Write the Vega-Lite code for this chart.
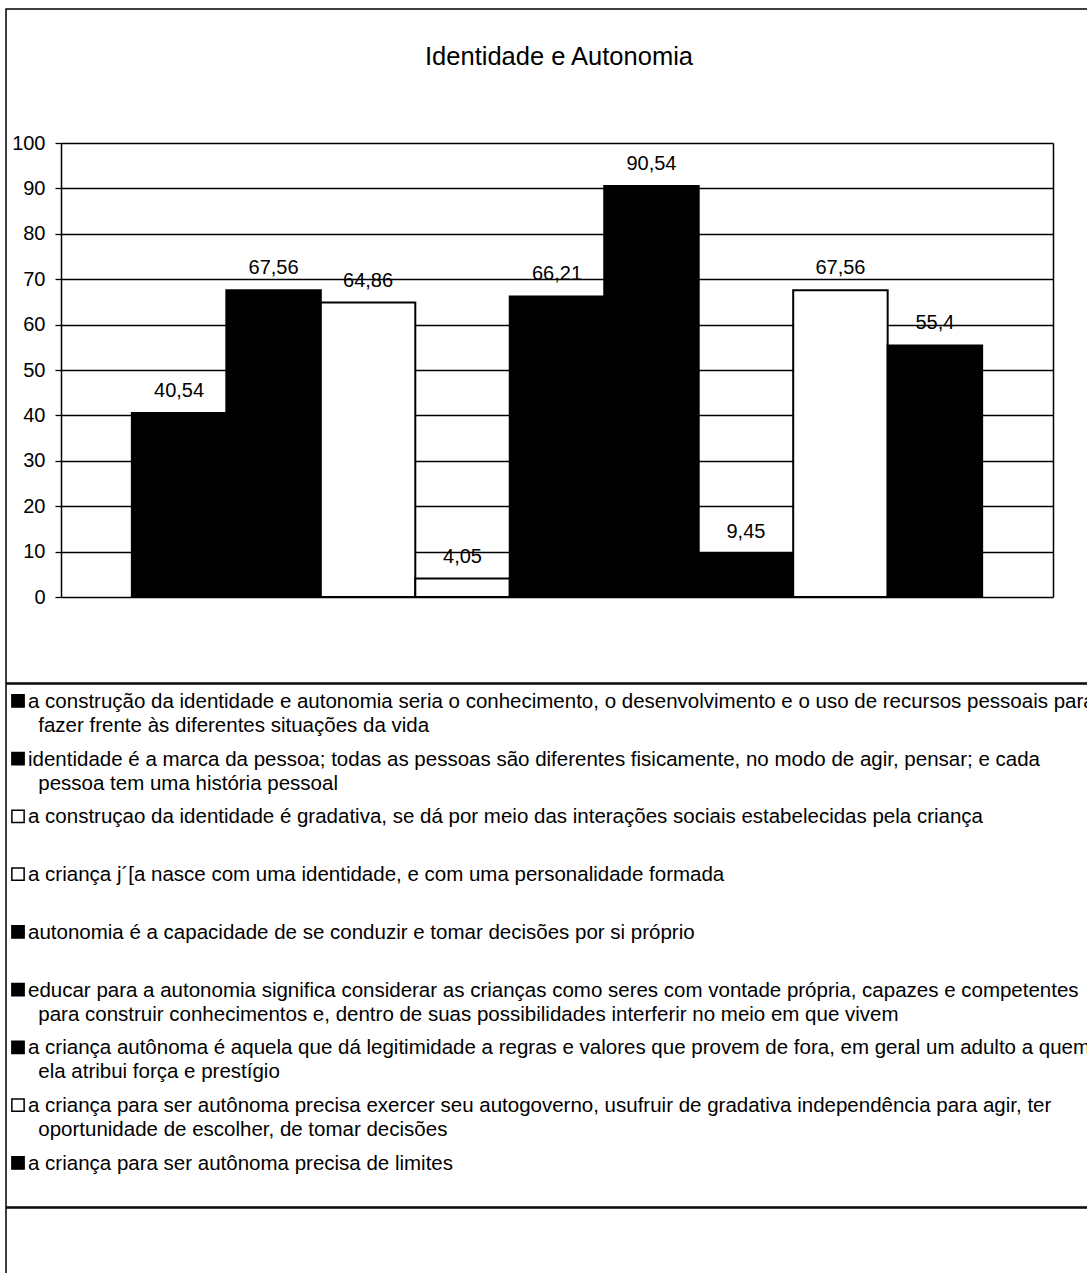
{
  "$schema": "https://vega.github.io/schema/vega-lite/v6.json",
  "background": "white",
  "padding": {"left": 5, "top": 8, "right": 0, "bottom": 0},
  "spacing": -1.5,
  "config": {
    "locale": {"number": {"decimal": ",", "thousands": ".", "grouping": [3], "currency": ["R$", ""]}},
    "font": "Liberation Sans",
    "view": {"stroke": "black", "strokeWidth": 1.5}
  },
  "datasets": {
    "serie": [
      {"ordem": 1, "valor": 40.54, "rotulo": "a construção da identidade e autonomia seria o conhecimento, o desenvolvimento e o uso de recursos pessoais para\n\u200b\u2002fazer frente às diferentes situações da vida"},
      {"ordem": 2, "valor": 67.56, "rotulo": "identidade é a marca da pessoa; todas as pessoas são diferentes fisicamente, no modo de agir, pensar; e cada\n\u200b\u2002pessoa tem uma história pessoal"},
      {"ordem": 3, "valor": 64.86, "rotulo": "a construçao da identidade é gradativa, se dá por meio das interações sociais estabelecidas pela criança"},
      {"ordem": 4, "valor": 4.05, "rotulo": "a criança j´[a nasce com uma identidade, e com uma personalidade formada"},
      {"ordem": 5, "valor": 66.21, "rotulo": "autonomia é a capacidade de se conduzir e tomar decisões por si próprio"},
      {"ordem": 6, "valor": 90.54, "rotulo": "educar para a autonomia significa considerar as crianças como seres com vontade própria, capazes e competentes\n\u200b\u2002para construir conhecimentos e, dentro de suas possibilidades interferir no meio em que vivem"},
      {"ordem": 7, "valor": 9.45, "rotulo": "a criança autônoma é aquela que dá legitimidade a regras e valores que provem de fora, em geral um adulto a quem\n\u200b\u2002ela atribui força e prestígio"},
      {"ordem": 8, "valor": 67.56, "rotulo": "a criança para ser autônoma precisa exercer seu autogoverno, usufruir de gradativa independência para agir, ter\n\u200b\u2002oportunidade de escolher, de tomar decisões"},
      {"ordem": 9, "valor": 55.4, "rotulo": "a criança para ser autônoma precisa de limites"}
    ]
  },
  "vconcat": [
    {
      "width": 1090,
      "height": 674,
      "title": {"text": "Identidade e Autonomia", "fontSize": 25.5, "fontWeight": "normal", "font": "Liberation Sans", "anchor": "middle", "frame": "group", "baseline": "alphabetic", "offset": -81, "dx": 8, "color": "black"},
      "data": {"name": "serie"},
      "resolve": {"axis": {"y": "independent"}},
      "layer": [
        {
          "mark": {"type": "bar", "stroke": "black", "strokeWidth": 2},
          "encoding": {
            "x": {"field": "ordem", "type": "ordinal", "scale": {"range": [55, 1047], "paddingInner": 0, "paddingOuter": 0.75}, "axis": null},
            "y": {"field": "valor", "type": "quantitative", "scale": {"domain": [0, 100], "nice": false, "range": [588, 134]},
              "axis": {"title": null, "offset": -55, "values": [0, 10, 20, 30, 40, 50, 60, 70, 80, 90, 100],
                "grid": true, "gridColor": "black", "gridWidth": 1.3, "gridOpacity": 1,
                "domainColor": "black", "domainWidth": 1.5, "tickColor": "black", "tickSize": 6, "tickWidth": 1.3,
                "labelFontSize": 20, "labelColor": "black", "labelPadding": 10, "labelFont": "Liberation Sans"}},
            "fill": {"field": "ordem", "type": "ordinal", "scale": {"range": ["black", "black", "white", "white", "black", "black", "black", "white", "black"]}, "legend": null}
          }
        },
        {
          "mark": {"type": "text", "baseline": "alphabetic", "dy": -16, "fontSize": 20, "color": "black", "font": "Liberation Sans"},
          "encoding": {
            "x": {"field": "ordem", "type": "ordinal"},
            "y": {"field": "valor", "type": "quantitative",
              "axis": {"orient": "right", "offset": -43, "title": null, "labels": false, "ticks": false, "grid": false, "domain": true, "domainColor": "black", "domainWidth": 1.5}},
            "text": {"field": "valor", "type": "quantitative", "format": "~r"}
          }
        }
      ]
    },
    {
      "width": 1090,
      "height": 523,
      "data": {"name": "serie"},
      "layer": [
        {
          "mark": {"type": "point", "shape": "square", "filled": true, "size": 150, "stroke": "black", "strokeWidth": 1.5, "opacity": 1},
          "encoding": {
            "x": {"datum": 1, "type": "quantitative", "scale": {"domain": [0, 90.833], "nice": false, "zero": false}, "axis": null},
            "y": {"field": "ordem", "type": "quantitative", "scale": {"domain": [0.706, 9.762], "reverse": true, "nice": false, "zero": false}, "axis": null},
            "fill": {"field": "ordem", "type": "ordinal", "legend": null}
          }
        },
        {
          "mark": {"type": "text", "align": "left", "baseline": "alphabetic", "dx": 10, "dy": 7, "fontSize": 20.5, "lineHeight": 24, "lineBreak": "\n", "clip": true, "color": "black", "font": "Liberation Sans"},
          "encoding": {
            "x": {"datum": 1, "type": "quantitative"},
            "y": {"field": "ordem", "type": "quantitative"},
            "text": {"field": "rotulo", "type": "nominal"}
          }
        }
      ]
    },
    {
      "width": 1090,
      "height": 80,
      "data": {"name": "serie"},
      "mark": {"type": "point", "opacity": 0},
      "encoding": {
        "x": {"datum": 0, "type": "quantitative", "scale": {"domain": [-1, 1]}, "axis": null},
        "y": {"datum": 0, "type": "quantitative", "scale": {"domain": [-1, 1]}, "axis": null}
      }
    }
  ]
}
